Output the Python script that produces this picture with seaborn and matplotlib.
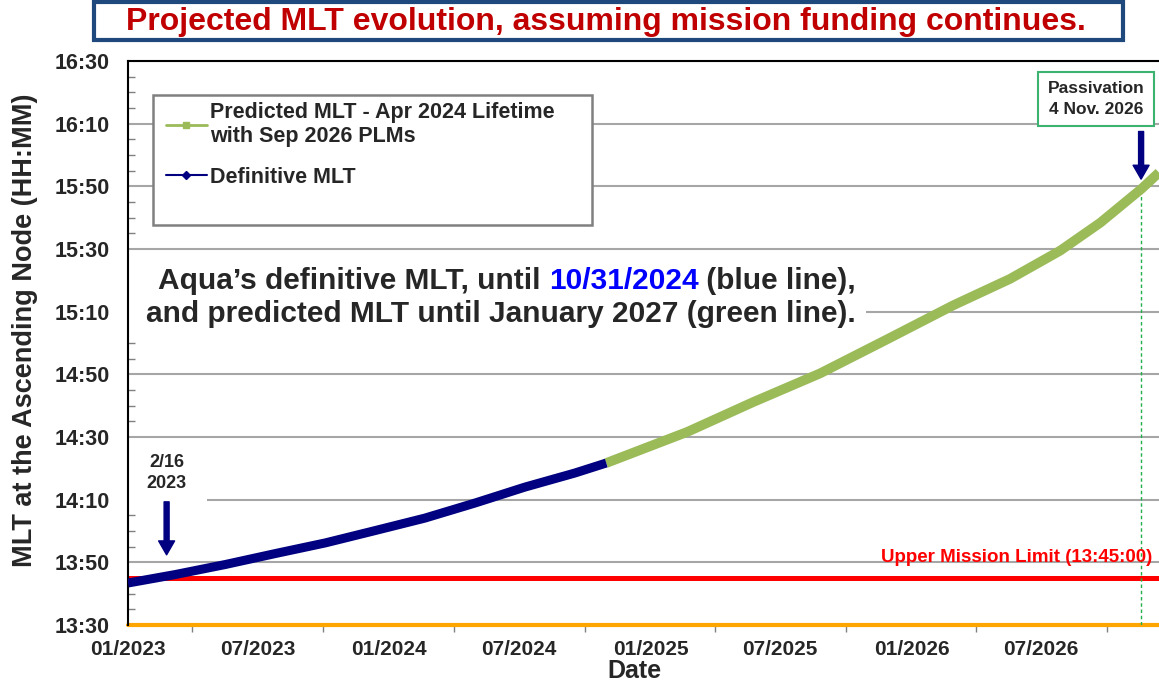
import pandas as pd
import numpy as np
import matplotlib
matplotlib.use("Agg")
import matplotlib.pyplot as plt
import matplotlib.dates as mdates
import seaborn as sns
from matplotlib.lines import Line2D
from matplotlib.patches import Rectangle
from matplotlib.ticker import FixedLocator, FuncFormatter

# MLT values are minutes after midnight (13:30 -> 810)
definitive_dates = ["2023-01-01", "2023-03-08", "2023-05-17", "2023-07-26",
                    "2023-10-04", "2023-12-12", "2024-02-20", "2024-04-30",
                    "2024-07-09", "2024-09-17", "2024-10-31"]
definitive_mlt = [823.4, 826.1, 829.3, 832.8, 836.2, 840.1, 844.1, 848.9,
                  854.0, 858.5, 861.7]

predicted_dates = ["2024-10-31", "2025-02-21", "2025-05-24", "2025-08-26",
                   "2025-11-28", "2026-02-28", "2026-05-19", "2026-07-28",
                   "2026-09-22", "2026-11-19", "2026-12-13"]
predicted_mlt = [861.7, 871.6, 881.1, 890.3, 901.2, 912.0, 920.5, 929.5,
                 938.4, 949.3, 954.4]

upper_limit = 825      # 13:45:00
lower_limit = 810      # 13:30
passivation_date = "2026-11-18"
start_marker_date = "2023-02-24"
x_range = ["2023-01-01", "2027-01-01"]
x_ticks = ["2023-01-01", "2023-07-01", "2024-01-01", "2024-07-01", "2025-01-01",
           "2025-07-01", "2026-01-01", "2026-07-01"]
x_minor = ["2023-04-01", "2023-10-01", "2024-04-01", "2024-10-01", "2025-04-01",
           "2025-10-01", "2026-04-01", "2026-10-01"]
y_ticks = [810, 830, 850, 870, 890, 910, 930, 950, 970, 990]

W, H = 1159, 681
def fx(px):
    return px / W
def fy(py):
    return 1 - py / H

sns.set_style("white")
plt.rcParams["font.family"] = ["Liberation Sans", "DejaVu Sans"]
plt.rcParams["font.weight"] = "bold"

defin = pd.DataFrame({"date": pd.to_datetime(definitive_dates), "mlt": definitive_mlt})
pred = pd.DataFrame({"date": pd.to_datetime(predicted_dates), "mlt": predicted_mlt})

fig = plt.figure(figsize=(W / 100, H / 100), dpi=100)
x0 = pd.Timestamp(x_range[0])
x1 = pd.Timestamp(x_range[1])
px_per_day = (1041 - 128) / (pd.Timestamp("2026-07-01") - x0).days
ax_w = (x1 - x0).days * px_per_day
ax = fig.add_axes([fx(128), fy(625), ax_w / W, (625 - 61) / H])

sns.lineplot(data=pred, x="date", y="mlt", color="#9BBB59", lw=7,
             ax=ax, zorder=3, solid_capstyle="butt")
sns.lineplot(data=defin, x="date", y="mlt", color="#000080", lw=6.5,
             ax=ax, zorder=4, solid_capstyle="butt")

ax.axhline(upper_limit, color="#FF0000", lw=3.6, zorder=2)
ax.axhline(lower_limit, color="#FFA500", lw=3, zorder=2, clip_on=False)

pdate = pd.Timestamp(passivation_date)
ax.vlines(pdate, lower_limit, 951, color="#22B14C", lw=1, linestyles=(0, (2.5, 2)), zorder=2)

ax.set_xlim(x0, x1)
ax.set_ylim(y_ticks[0], y_ticks[-1])
ax.yaxis.set_major_locator(FixedLocator(y_ticks))
ax.yaxis.set_minor_locator(FixedLocator(np.arange(y_ticks[0], y_ticks[-1] + 1, 5)))
ax.yaxis.set_major_formatter(FuncFormatter(lambda v, p: f"{int(v // 60)}:{int(v % 60):02d}"))
ax.xaxis.set_major_locator(FixedLocator(mdates.date2num(pd.to_datetime(x_ticks))))
ax.xaxis.set_minor_locator(FixedLocator(mdates.date2num(pd.to_datetime(x_minor))))
ax.xaxis.set_major_formatter(mdates.DateFormatter("%m/%Y"))

ax.grid(axis="y", color="#A6A6A6", lw=1.5, zorder=0)
ax.set_axisbelow(True)
ax.tick_params(axis="y", which="major", direction="out", length=8, width=1, labelsize=15.5, pad=5)
ax.tick_params(axis="y", which="minor", direction="in", length=5, width=1, color="#808080", left=True)
ax.tick_params(axis="x", which="major", direction="inout", length=10, width=1, labelsize=15,
               pad=6, color="#808080")
ax.tick_params(axis="x", which="minor", direction="out", length=5, width=1, color="#808080", bottom=True)
for s in ["right", "bottom"]:
    ax.spines[s].set_visible(False)
ax.spines["left"].set_color("black")
ax.spines["left"].set_linewidth(1.5)
ax.spines["top"].set_color("black")
ax.spines["top"].set_linewidth(1.5)
ax.set_xlabel("")
ax.set_ylabel("")

fig.text(fx(25), fy(330), "MLT at the Ascending Node (HH:MM)", rotation=90,
         ha="center", va="center", fontsize=19.5)
fig.text(fx(634), fy(671), "Date", ha="center", va="center", fontsize=18)

# title box
fig.patches.append(Rectangle((fx(94), fy(40)), (1123 - 94) / W, 38 / H, transform=fig.transFigure,
                             facecolor="white", edgecolor="#1F497D", lw=3, figure=fig))
fig.text(fx(606), fy(22), "Projected MLT evolution, assuming mission funding continues.",
         ha="center", va="center", fontsize=23, color="#C00000")

# legend frame and legend
ax.add_patch(Rectangle((fx(153), fy(225)), (592 - 153) / W, (225 - 95) / H,
                       transform=fig.transFigure, facecolor="white", edgecolor="#808080",
                       lw=1.8, zorder=5))
handles = [Line2D([], [], color="#9BBB59", lw=2, marker="s", markersize=4),
           Line2D([], [], color="#000080", lw=1.5, marker="D", markersize=4)]
labels = ["Predicted MLT - Apr 2024 Lifetime\nwith Sep 2026 PLMs", "Definitive MLT"]
leg = ax.legend(handles, labels, loc="upper left", bbox_to_anchor=(fx(166), fy(102)),
                bbox_transform=fig.transFigure, frameon=False, fontsize=15.5,
                handlelength=1.9, handletextpad=0.15, labelspacing=0.9, borderpad=0,
                borderaxespad=0)
leg.set_zorder(6)

# white backgrounds behind the notes (they hide the grid lines)
ax.add_patch(Rectangle((fx(129), fy(332)), (866 - 129) / W, (332 - 262) / H,
                       transform=fig.transFigure, facecolor="white", edgecolor="none", zorder=1))
ax.add_patch(Rectangle((fx(129), fy(503)), (207 - 129) / W, (503 - 445) / H,
                       transform=fig.transFigure, facecolor="white", edgecolor="none", zorder=1))

note_size = 21.5
t1 = fig.text(fx(158), fy(281), "Aqua\u2019s definitive MLT, until ", ha="left", va="center",
              fontsize=note_size)
t2 = fig.text(0, 0, "10/31/2024", fontsize=note_size, color="#0000FF", va="bottom")
t3 = fig.text(0, 0, " (blue line),", fontsize=note_size, va="bottom")
fig.text(fx(501), fy(314), "and predicted MLT until January 2027 (green line).",
         ha="center", va="center", fontsize=note_size)

# place the coloured pieces right after the first piece
fig.canvas.draw()
r = fig.canvas.get_renderer()
bb1 = t1.get_window_extent(r)
t2.set_position((bb1.x1 / W, bb1.y0 / H))
fig.canvas.draw()
bb2 = t2.get_window_extent(r)
t3.set_position((bb2.x1 / W, bb2.y0 / H))

ax.text(pd.Timestamp("2026-12-04"), 831.4, "Upper Mission Limit (13:45:00)", ha="right",
        va="center", color="#FF0000", fontsize=13.5, zorder=3)

# 2/16 2023 arrow
sdate = pd.Timestamp(start_marker_date)
ax.annotate("", xy=(sdate, 832.4), xytext=(sdate, 849.3),
            arrowprops=dict(facecolor="#000080", edgecolor="#000080", width=3.6,
                            headwidth=11.5, headlength=10, shrink=0), zorder=6)
ax.text(sdate, 858.5, "2/16\n2023", ha="center", va="center", fontsize=13,
        linespacing=1.3, zorder=6)

# passivation box and arrow
ax.annotate("", xy=(pdate, 952.3), xytext=(pdate, 967.5),
            arrowprops=dict(facecolor="#000080", edgecolor="#000080", width=3.6,
                            headwidth=11.5, headlength=10, shrink=0), zorder=6)
fig.text(fx(1096), fy(99), "Passivation\n4 Nov. 2026", ha="center", va="center",
         fontsize=12.5, linespacing=1.45,
         bbox=dict(facecolor="white", edgecolor="#3CB371", lw=1.5, boxstyle="square,pad=0.55"))

fig.savefig("out.png", dpi=100)
